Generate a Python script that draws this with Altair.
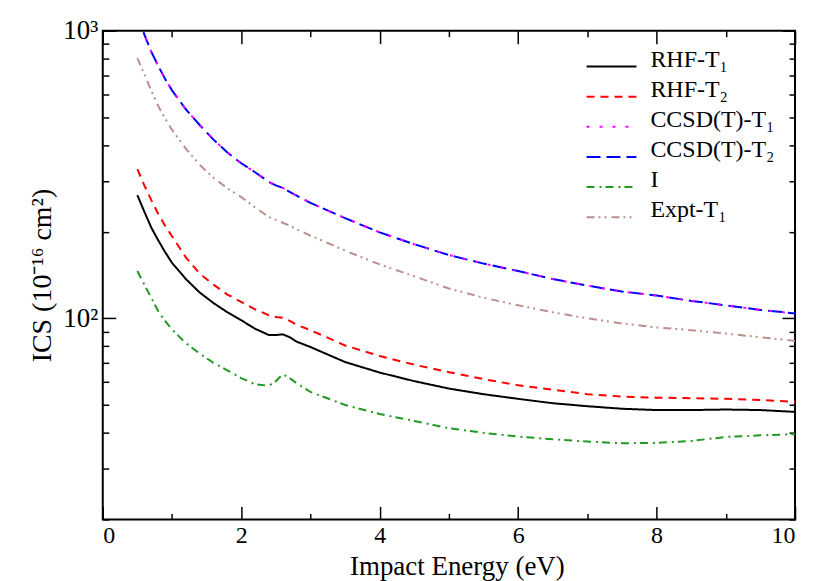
import altair as alt
import pandas as pd

# Impact energy grid (eV)
energy = [0.5, 0.6, 0.7, 0.8, 0.9, 1.0, 1.2, 1.4, 1.6, 1.8, 2.0, 2.2, 2.4, 2.5, 2.6, 2.7, 2.8,
          3.0, 3.5, 4.0, 4.5, 5.0, 5.5, 6.0, 6.5, 7.0, 7.5, 8.0, 8.5, 9.0, 9.5, 10.0]

rhf_t1 = [268, 235, 207, 187, 170, 156, 137, 123, 113, 105, 98.5, 92, 87.5, 87.5, 88, 86, 83,
          79.5, 70.5, 64.8, 60.5, 57, 54.5, 52.5, 50.7, 49.5, 48.5, 48, 48, 48.2, 48, 47.3]
rhf_t2 = [330, 290, 258, 231, 210, 193, 163, 143, 131, 121, 114, 107.5, 102.5, 101, 100.5, 98, 95,
          91, 80.5, 74, 69, 65, 61.5, 58.5, 56.5, 54.5, 53.5, 53, 52.8, 52.5, 52, 51.3]
ccsd_t1 = [1150, 970, 845, 755, 680, 620, 533, 470, 418, 377, 346, 322, 298, 290, 284, 275, 267,
           252, 223, 199, 181, 166, 155, 146, 137, 130, 124, 120, 115, 111, 107, 104]
ccsd_t2 = [1150, 970, 845, 755, 680, 620, 533, 470, 418, 377, 346, 322, 298, 290, 284, 275, 267,
           252, 223, 199, 181, 166, 155, 146, 137, 130, 124, 120, 115, 111, 107, 104]
ics_i = [146, 131, 118, 106, 98, 91.5, 82, 75.5, 70, 66, 62, 59, 58.3, 60.5, 64, 62, 59.5,
         55.5, 50, 46.5, 44, 41.5, 40, 38.8, 38, 37.3, 36.8, 36.9, 37.5, 38.7, 39.2, 39.6]
expt_t1 = [803, 705, 620, 548, 495, 452, 389, 342, 308, 283, 264, 243, 225, 220, 215, 210, 204,
           194, 172, 154, 140, 127, 118, 111, 105, 100, 96, 93, 91, 88.5, 86, 83.5]

series_names = ["RHF-T₁", "RHF-T₂", "CCSD(T)-T₁", "CCSD(T)-T₂", "I", "Expt-T₁"]
series_values = [rhf_t1, rhf_t2, ccsd_t1, ccsd_t2, ics_i, expt_t1]
colors = ["#000000", "#ff0000", "#ff00ff", "#0000ff", "#229922", "#bc8f8f"]
dashes = [[1, 0], [8, 6], [3, 10], [14, 6], [8, 5, 2, 4], [8, 4, 2, 4, 2, 5]]
widths = [2, 2, 3.5, 2, 2, 2]
draw_order = [0, 1, 3, 4, 5, 2]  # magenta dotted line drawn last, on top of the blue one

x_major = [0, 2, 4, 6, 8, 10]
x_minor = [1, 3, 5, 7, 9]
y_major = [100, 1000]
y_minor = [20, 30, 40, 50, 60, 70, 80, 90, 200, 300, 400, 500, 600, 700, 800, 900]

rows = []
for i in draw_order:
    for e, v in zip(energy, series_values[i]):
        rows.append({"series": series_names[i], "x": e, "y": v})
df = pd.DataFrame(rows)
legend_df = pd.DataFrame({"series": series_names})

W, H = 694, 490
FONT = "Liberation Serif"

xscale = alt.Scale(domain=[0, 10], nice=False, zero=False)
yscale = alt.Scale(type="log", domain=[20, 1000], nice=False)
color_enc = alt.Color("series:N", scale=alt.Scale(domain=series_names, range=colors), legend=None)
dash_enc = alt.StrokeDash("series:N", scale=alt.Scale(domain=series_names, range=dashes), legend=None)
width_enc = alt.StrokeWidth("series:N", scale=alt.Scale(domain=series_names, range=widths), legend=None)

lines = alt.Chart(df).mark_line(clip=True).encode(
    x=alt.X("x:Q", scale=xscale, axis=alt.Axis(
        orient="bottom", values=x_major, ticks=False, domain=False, grid=False,
        labelFont=FONT, labelFontSize=24, labelPadding=4, labelColor="black",
        title="Impact Energy (eV)", titleFont=FONT, titleFontSize=27,
        titleFontWeight="normal", titleColor="black",
        titleX=355, titleY=55, titleBaseline="alphabetic")),
    y=alt.Y("y:Q", scale=yscale, axis=alt.Axis(
        orient="left", values=y_major, ticks=False, domain=False, grid=False,
        labelExpr="datum.value >= 1000 ? '10³' : '10²'",
        labelFont=FONT, labelFontSize=27, labelPadding=5, labelColor="black",
        title="ICS (10⁻¹⁶ cm²)", titleFont=FONT, titleFontSize=28,
        titleFontWeight="normal", titleColor="black", titlePadding=6)),
    color=color_enc,
    strokeDash=dash_enc,
    strokeWidth=width_enc,
    order=alt.Order("x:Q"),
)

# legend drawn from the series list, rows placed by a point scale
legend_y = alt.Y("series:N", sort=series_names, axis=None,
                 scale=alt.Scale(type="point", domain=series_names, range=[36, 187], padding=0))
legend_lines = alt.Chart(legend_df).mark_rule().encode(
    x=alt.value(485), x2=alt.value(535), y=legend_y,
    color=color_enc, strokeDash=dash_enc, strokeWidth=width_enc,
)
legend_text = alt.Chart(legend_df).mark_text(
    align="left", baseline="middle", font=FONT, fontSize=24, color="black", dy=-7
).encode(x=alt.value(549), y=legend_y, text="series:N")


def tick_layer(xorient, yorient, xvals, yvals, length):
    return alt.Chart(df).mark_point(opacity=0).encode(
        x=alt.X("x:Q", scale=xscale, title=None, axis=alt.Axis(
            orient=xorient, offset=-H, values=xvals, labels=False, domain=False,
            grid=False, tickSize=length, tickWidth=1.5, tickColor="black")),
        y=alt.Y("y:Q", scale=yscale, title=None, axis=alt.Axis(
            orient=yorient, offset=-W, values=yvals, labels=False, domain=False,
            grid=False, tickSize=length, tickWidth=1.5, tickColor="black")),
    )


chart = alt.layer(
    lines,
    tick_layer("top", "right", x_major, y_major, 13),
    tick_layer("top", "right", x_minor, y_minor, 6),
    tick_layer("bottom", "left", x_major, y_major, 13),
    tick_layer("bottom", "left", x_minor, y_minor, 6),
    legend_lines,
    legend_text,
).resolve_axis(x="independent", y="independent").resolve_scale(
    y="independent"
).properties(
    width=W, height=H,
    padding={"left": 95, "top": 22, "right": 13, "bottom": 62},
    autosize="none",
).configure(background="white", font=FONT).configure_view(
    stroke="black", strokeWidth=2
).configure_axis(labelFont=FONT, titleFont=FONT)

chart.save("out.html", embed_options={"renderer": "svg", "actions": False})
